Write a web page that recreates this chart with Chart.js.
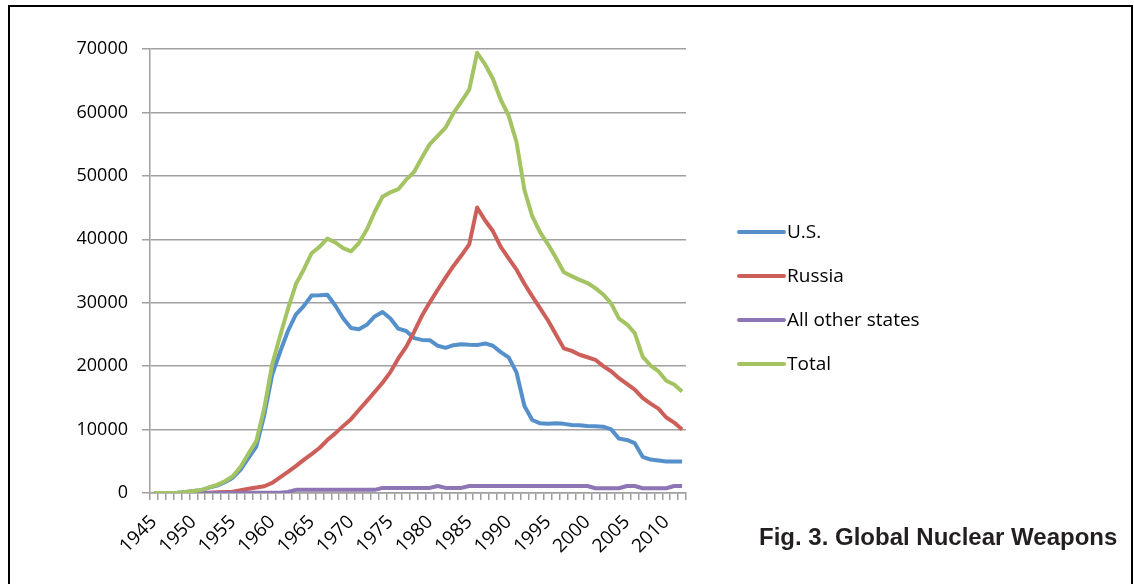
<!DOCTYPE html>
<html lang="en">
<head>
  <meta charset="UTF-8" />
  <title>Global Nuclear Weapons</title>
  <script src="https://cdn.jsdelivr.net/npm/chart.js"></script>
  <style>
    body {
      margin: 0;
      padding: 0;
      background: #fff;
      font-family: 'Open Sans', sans-serif;
    }
    canvas {
      position: absolute;
      left: 0;
      top: 0;
    }
    .marco {
      position: absolute;
      left: 8px;
      top: 5px;
      width: 1121px;
      height: 640px;
      border: 2px solid #000;
    }
    .pie {
      position: absolute;
      left: 759px;
      top: 525px;
      font: bold 24px/24px 'Liberation Sans', Arial, sans-serif;
      color: #231f20;
      white-space: nowrap;
    }
  </style>
</head>
<body>
  <canvas id="grafico" width="1134" height="584"></canvas>
  <div class="marco"></div>
  <div class="pie">Fig. 3. Global Nuclear Weapons</div>

  <script>
    const years = [
      1945, 1946, 1947, 1948, 1949, 1950, 1951, 1952, 1953, 1954,
      1955, 1956, 1957, 1958, 1959, 1960, 1961, 1962, 1963, 1964,
      1965, 1966, 1967, 1968, 1969, 1970, 1971, 1972, 1973, 1974,
      1975, 1976, 1977, 1978, 1979, 1980, 1981, 1982, 1983, 1984,
      1985, 1986, 1987, 1988, 1989, 1990, 1991, 1992, 1993, 1994,
      1995, 1996, 1997, 1998, 1999, 2000, 2001, 2002, 2003, 2004,
      2005, 2006, 2007, 2008, 2009, 2010, 2011, 2012
    ];
    const shownYears = [1945, 1950, 1955, 1960, 1965, 1970, 1975, 1980, 1985, 1990, 1995, 2000, 2005, 2010];
    const yTicks = [0, 10000, 20000, 30000, 40000, 50000, 60000, 70000];

    const usa = [
      2, 9, 13, 50, 170, 300, 440, 840, 1170, 1700,
      2420, 3690, 5540, 7350, 12300, 18640, 22230, 25540, 28130, 29460,
      31140, 31180, 31260, 29560, 27550, 26010, 25830, 26520, 27840, 28540,
      27520, 25910, 25540, 24420, 24140, 24100, 23210, 22890, 23310, 23460,
      23370, 23320, 23580, 23210, 22220, 21390, 19010, 13710, 11510, 10980,
      10900, 11010, 10900, 10730, 10690, 10580, 10530, 10460, 10030, 8570,
      8360, 7850, 5710, 5270, 5110, 4950, 4950, 4950
    ];
    const russia = [
      0, 0, 0, 0, 1, 5, 25, 50, 120, 150,
      200, 430, 660, 870, 1060, 1600, 2470, 3320, 4240, 5220,
      6130, 7090, 8340, 9400, 10540, 11640, 13090, 14480, 15920, 17390,
      19060, 21210, 23040, 25390, 27940, 30060, 32050, 33950, 35800, 37430,
      39200, 45000, 43000, 41300, 38800, 37000, 35200, 33000, 31000, 29100,
      27200, 25000, 22800, 22400, 21800, 21400, 21000, 20000, 19200, 18100,
      17200, 16300, 15000, 14100, 13300, 11900, 11100, 10000
    ];
    const others = [
      0, 0, 0, 0, 0, 0, 0, 0, 1, 5,
      10, 15, 20, 22, 25, 30, 50, 150, 500, 500,
      500, 500, 500, 500, 500, 500, 500, 500, 500, 800,
      800, 800, 800, 800, 800, 800, 1100, 800, 800, 800,
      1100, 1100, 1100, 1100, 1100, 1100, 1100, 1100, 1100, 1100,
      1100, 1100, 1100, 1100, 1100, 1100, 750, 750, 750, 750,
      1100, 1100, 750, 750, 750, 750, 1100, 1100
    ];
    const total = [
      2, 9, 13, 50, 170, 305, 465, 890, 1290, 1855,
      2630, 4135, 6220, 8240, 13390, 20270, 24750, 29010, 32900, 35200,
      37800, 38800, 40100, 39500, 38600, 38100, 39400, 41500, 44300, 46700,
      47400, 47900, 49400, 50600, 52900, 55000, 56300, 57600, 59900, 61700,
      63600, 69400, 67600, 65300, 62000, 59500, 55300, 47800, 43600, 41100,
      39200, 37100, 34800, 34200, 33600, 33100, 32300, 31300, 29900, 27500,
      26600, 25200, 21500, 20100, 19200, 17700, 17100, 16000
    ];

    const seriesNames = ['U.S.', 'Russia', 'All other states', 'Total'];
    const seriesColors = ['#5590CB', '#CD5F5A', '#8E76B4', '#A4C363'];

    // leyenda a mano, lineas cortas como en Excel
    const leyenda = {
      id: 'leyenda',
      afterDraw(chart) {
        const ctx = chart.ctx;
        ctx.save();
        chart.data.datasets.forEach((ds, i) => {
          const y = 232 + i * 44;
          ctx.strokeStyle = ds.borderColor;
          ctx.lineWidth = 4;
          ctx.lineCap = 'round';
          ctx.beginPath();
          ctx.moveTo(739, y);
          ctx.lineTo(784, y);
          ctx.stroke();
          ctx.fillStyle = '#000';
          ctx.font = '19px "Open Sans", sans-serif';
          ctx.textAlign = 'left';
          ctx.textBaseline = 'middle';
          ctx.fillText(ds.label, 787, y + 1);
        });
        ctx.restore();
      }
    };

    const seriesData = [usa, russia, others, total];

    new Chart(document.getElementById('grafico'), {
      type: 'line',
      data: {
        labels: years,
        datasets: seriesData.map((d, i) => ({
          label: seriesNames[i],
          data: d,
          borderColor: seriesColors[i],
          backgroundColor: seriesColors[i],
          borderWidth: 4,
          borderJoinStyle: 'round',
          pointRadius: 0,
          tension: 0,
          order: 3 - i
        }))
      },
      options: {
        responsive: false,
        animation: false,
        layout: {
          padding: { left: 0, top: 49, right: 448, bottom: 0 }
        },
        plugins: {
          legend: { display: false },
          tooltip: { enabled: false }
        },
        scales: {
          x: {
            type: 'category',
            offset: true,
            afterFit(scale) { scale.height = 91; },
            grid: {
              offset: true,
              drawOnChartArea: false,
              drawTicks: true,
              tickLength: 7,
              color: '#a0a0a0',
              lineWidth: 1.5
            },
            border: { color: '#a0a0a0', width: 1.5 },
            ticks: {
              autoSkip: false,
              minRotation: 45,
              maxRotation: 45,
              padding: 11,
              color: '#000',
              font: { family: 'Open Sans', size: 19 },
              callback: function(value, index) {
                const y = years[index];
                return shownYears.includes(y) ? String(y) : '';
              }
            }
          },
          y: {
            min: yTicks[0],
            max: yTicks[yTicks.length - 1],
            afterFit(scale) { scale.width = 150; },
            afterBuildTicks(scale) {
              scale.ticks = yTicks.map(v => ({ value: v }));
            },
            grid: {
              color: '#a0a0a0',
              lineWidth: 1.5,
              tickLength: 8
            },
            border: { color: '#a0a0a0', width: 1.5 },
            ticks: {
              padding: 14,
              color: '#000',
              font: { family: 'Open Sans', size: 18 },
              callback: v => String(v)
            }
          }
        }
      },
      plugins: [leyenda]
    });
  </script>
</body>
</html>
